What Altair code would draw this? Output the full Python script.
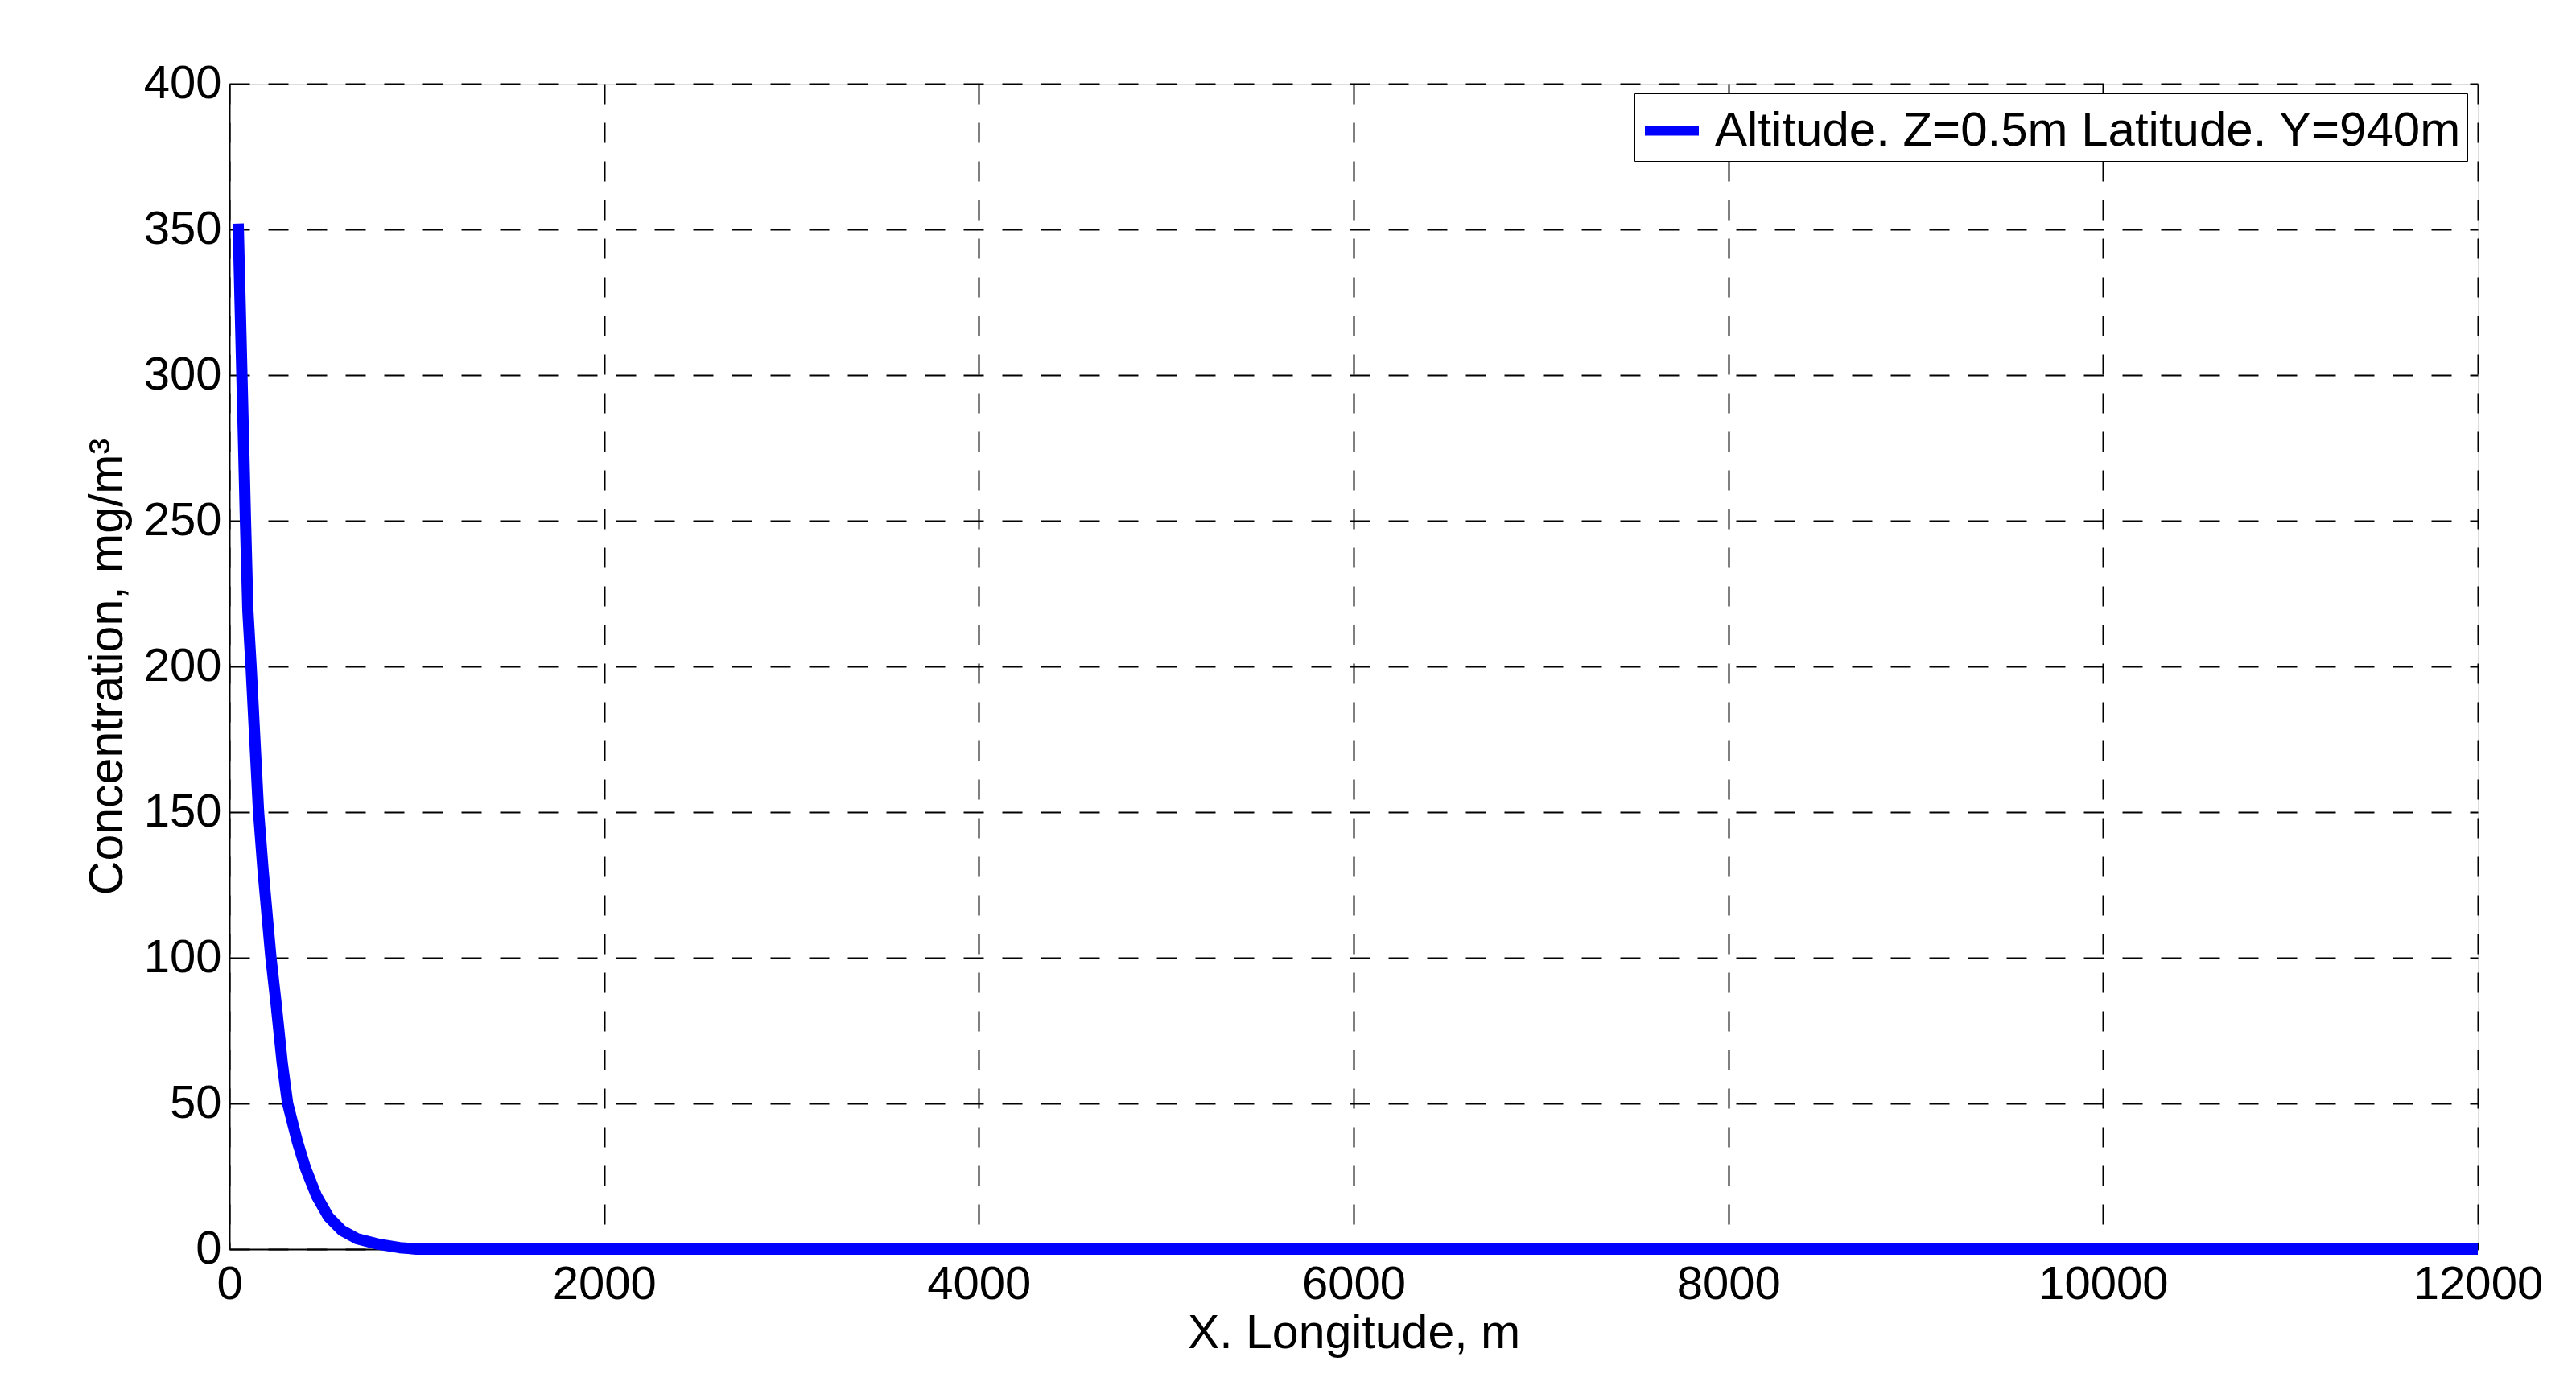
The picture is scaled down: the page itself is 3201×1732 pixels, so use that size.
import altair as alt
import pandas as pd

# Data
x_m = [47, 67, 86, 99, 116, 132, 156, 180, 222, 250, 282, 311, 364, 408, 465, 530, 601, 680, 795, 909, 1000, 2000, 4000, 6000, 8000, 10000, 12000]
conc = [352, 300, 250, 219, 200, 180, 150, 130, 100, 84, 64, 50, 36.7, 27.5, 18.3, 11.0, 6.4, 3.6, 1.7, 0.5, 0, 0, 0, 0, 0, 0, 0]
series_name = "Altitude. Z=0.5m Latitude. Y=940m"
x_ticks = [0, 2000, 4000, 6000, 8000, 10000, 12000]
y_ticks = [0, 50, 100, 150, 200, 250, 300, 350, 400]

df = pd.DataFrame({"x": x_m, "c": conc, "s": [series_name] * len(x_m)})

FONT = "Liberation Sans"

common_axis = dict(
    grid=True,
    gridColor="black",
    gridDash=[25, 23],
    gridWidth=2,
    ticks=False,
    tickSize=0,
    domainColor="black",
    domainWidth=2,
    labelColor="black",
    labelFont=FONT,
    labelFontSize=58,
    labelFlush=False,
    labelOverlap=False,
    titleColor="black",
    titleFont=FONT,
    titleFontSize=59,
    titleFontWeight="normal",
)

chart = alt.Chart(df).mark_line(
    strokeWidth=14, strokeCap="butt", strokeJoin="round", clip=False
).encode(
    x=alt.X(
        "x:Q",
        scale=alt.Scale(domain=[0, 12000], nice=False, zero=False),
        axis=alt.Axis(
            values=x_ticks, format="d", title="X. Longitude, m",
            labelPadding=15, titlePadding=2, **common_axis
        ),
    ),
    y=alt.Y(
        "c:Q",
        scale=alt.Scale(domain=[0, 400], nice=False),
        axis=alt.Axis(
            values=y_ticks, format="d", title="Concentration, mg/m³",
            labelPadding=10, titlePadding=15, **common_axis
        ),
    ),
    color=alt.Color(
        "s:N",
        scale=alt.Scale(range=["#0000ff"]),
        legend=alt.Legend(
            title=None,
            orient="none",
            legendX=1746,
            legendY=12,
            symbolType="stroke",
            symbolSize=4489,
            symbolStrokeWidth=12,
            labelFont=FONT,
            labelFontSize=60,
            labelColor="black",
            labelLimit=0,
            labelOffset=14,
            padding=7,
            strokeColor="black",
            fillColor="white",
        ),
    ),
).properties(
    width=2794,
    height=1448,
    autosize=alt.AutoSizeParams(type="none"),
    padding={"left": 277, "top": 96, "right": 100, "bottom": 150},
).configure_view(
    stroke="black", strokeWidth=2
).configure(background="white")

chart.save("out.html", embed_options={"renderer": "svg", "actions": False})
